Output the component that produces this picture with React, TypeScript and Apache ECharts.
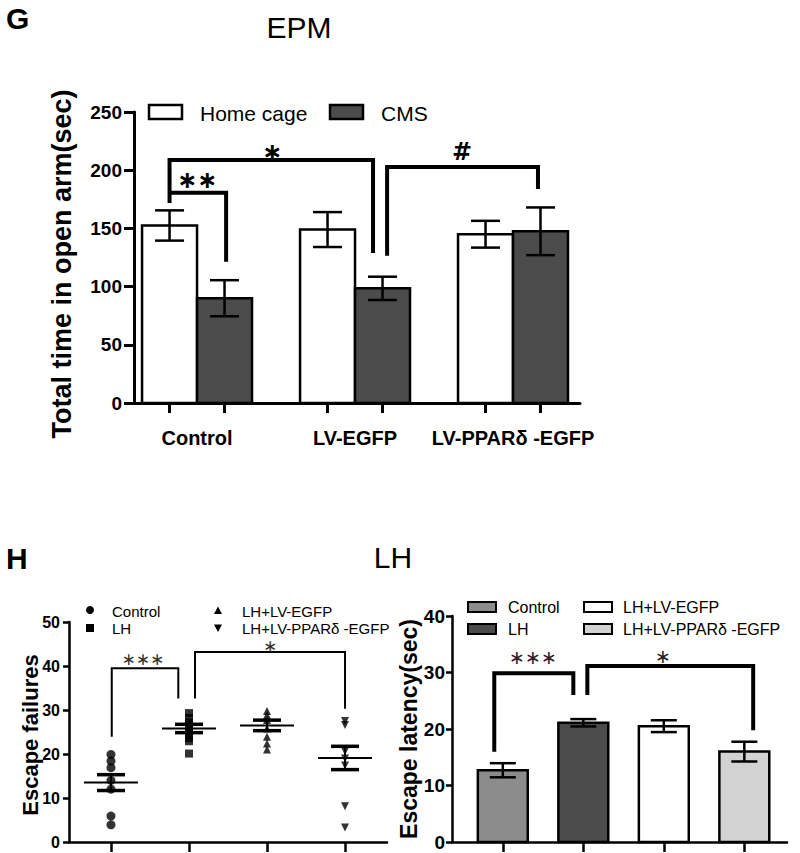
import React, { useEffect, useRef } from "react";
import * as echarts from "echarts";

// ---------- Panel G : EPM ----------
const epmGroups = ["Control", "LV-EGFP", "LV-PPARδ -EGFP"];
const epmSeriesNames = ["Home cage", "CMS"];
const epmHome = [152.5, 149, 145];
const epmHomeSem = [13, 15, 11.5];
const epmCms = [90, 98.5, 147.5];
const epmCmsSem = [15.5, 10, 20.5];
const epmYTicks = [0, 50, 100, 150, 200, 250];
// brackets: [x1, y1 (foot), x2, y2 (foot), yTop]
const epmBrackets = [
  [-0.174, 171.8, 1.114, 128.9, 208.8],
  [-0.174, 180.7, 0.184, 121.4, 180.7],
  [1.203, 126.5, 2.158, 183.8, 202.7],
];
const epmMarkText = ["∗", "∗∗", "#"];
const epmMarkPos = [
  [0.475, 215.6],
  [0.0, 191.6],
  [1.677, 215.6],
];

// ---------- Panel H : LH ----------
const lhGroups = ["Control", "LH", "LH+LV-EGFP", "LH+LV-PPARδ -EGFP"];
const failControl = [19.9, 18.4, 16.9, 14.0, 12.0, 5.9, 3.9];
const failLH = [29.3, 28.2, 27.2, 26.5, 26.0, 25.2, 24.4, 23.6, 22.9, 20.1];
const failEGFP = [29.8, 28.8, 27.7, 25.8, 23.9, 22.4, 21.0];
const failPPAR = [27.5, 26.6, 20.6, 19.0, 17.4, 8.1, 3.3];
const failMean = [13.5, 25.8, 26.5, 19.1];
const failSem = [1.8, 0.95, 1.2, 2.65];
const failYTicks = [0, 10, 20, 30, 40, 50];
const failBrackets = [
  [0.01, 23.9, 0.863, 32.6, 39.5],
  [1.077, 32.6, 3.0, 30.3, 43.2],
];
const failMarkText = ["∗∗∗", "∗"];
const failMarkPos = [
  [0.41, 41.6],
  [2.04, 44.6],
];

const latency = [12.7, 21.1, 20.5, 16.0];
const latencySem = [1.25, 0.65, 1.05, 1.75];
const latencyYTicks = [0, 10, 20, 30, 40];
const latencyBrackets = [
  [-0.106, 15.96, 0.876, 26.0, 29.85],
  [1.05, 26.0, 3.11, 19.8, 31.15],
];
const latencyMarkText = ["∗∗∗", "∗"];
const latencyMarkPos = [
  [0.375, 32.7],
  [1.99, 33.0],
];

// ---------- styles ----------
const FONT = "'Liberation Sans', Arial, Helvetica, sans-serif";
const STAR_FONT = "'DejaVu Sans', sans-serif";
const DARK = "#4b4b4b";
const latencyColors = ["#8c8c8c", DARK, "#ffffff", "#d2d2d2"];
const EPM_BAR_OFF = 0.174;
const EPM_BAR_W = 0.348;
const LAT_BAR_W = 0.62;

function barRender(fills: string[] | string, barW: number, lw: number) {
  return (params: any, api: any) => {
    const x = api.value(0);
    const v = api.value(1);
    const p = api.coord([x, v]);
    const b = api.coord([x, 0]);
    const w = api.size([barW, 0])[0];
    const fill = Array.isArray(fills) ? fills[params.dataIndex] : fills;
    return {
      type: "rect",
      shape: { x: p[0] - w / 2, y: p[1], width: w, height: b[1] - p[1] },
      style: { fill, stroke: "#000", lineWidth: lw },
    };
  };
}

function errRender(cap: number, lw: number) {
  return (params: any, api: any) => {
    const x = api.value(0);
    const m = api.value(1);
    const s = api.value(2);
    const hi = api.coord([x, m + s]);
    const lo = api.coord([x, m - s]);
    const st = { stroke: "#000", lineWidth: lw };
    return {
      type: "group",
      children: [
        { type: "line", shape: { x1: hi[0], y1: hi[1], x2: lo[0], y2: lo[1] }, style: st },
        { type: "line", shape: { x1: hi[0] - cap, y1: hi[1], x2: hi[0] + cap, y2: hi[1] }, style: st },
        { type: "line", shape: { x1: lo[0] - cap, y1: lo[1], x2: lo[0] + cap, y2: lo[1] }, style: st },
      ],
    };
  };
}

function meanRender(half: number, capHalf: number) {
  return (params: any, api: any) => {
    const x = api.value(0);
    const m = api.value(1);
    const s = api.value(2);
    const c = api.coord([x, m]);
    const hi = api.coord([x, m + s]);
    const lo = api.coord([x, m - s]);
    return {
      type: "group",
      children: [
        { type: "line", shape: { x1: hi[0], y1: hi[1], x2: lo[0], y2: lo[1] }, style: { stroke: "#000", lineWidth: 2 } },
        { type: "line", shape: { x1: c[0] - half, y1: c[1], x2: c[0] + half, y2: c[1] }, style: { stroke: "#000", lineWidth: 2 } },
        { type: "line", shape: { x1: hi[0] - capHalf, y1: hi[1], x2: hi[0] + capHalf, y2: hi[1] }, style: { stroke: "#000", lineWidth: 3.5 } },
        { type: "line", shape: { x1: lo[0] - capHalf, y1: lo[1], x2: lo[0] + capHalf, y2: lo[1] }, style: { stroke: "#000", lineWidth: 3.5 } },
      ],
    };
  };
}

function bracketRender(lw: number) {
  return (params: any, api: any) => {
    const a = api.coord([api.value(0), api.value(1)]);
    const b = api.coord([api.value(0), api.value(4)]);
    const c = api.coord([api.value(2), api.value(4)]);
    const d = api.coord([api.value(2), api.value(3)]);
    return {
      type: "polyline",
      shape: { points: [a, b, c, d] },
      style: { stroke: "#000", lineWidth: lw, fill: "none", lineJoin: "miter", lineCap: "butt" },
    };
  };
}

function markRender(texts: string[], size: number, color: string, family: string, weight: string) {
  return (params: any, api: any) => {
    const p = api.coord([api.value(0), api.value(1)]);
    return {
      type: "text",
      x: p[0],
      y: p[1],
      style: {
        text: texts[params.dataIndex],
        fill: color,
        fontSize: size,
        fontFamily: family,
        fontWeight: weight,
        lineHeight: size,
        align: "center",
        verticalAlign: "middle",
        textAlign: "center",
        textVerticalAlign: "middle",
      },
    };
  };
}

function yAxisCfg(gridIndex: number, max: number, interval: number, fontSize: number, margin: number, tickLen: number, lw: number) {
  return {
    type: "value",
    gridIndex,
    min: 0,
    max,
    interval,
    axisLine: { show: true, onZero: false, lineStyle: { color: "#000", width: lw } },
    axisTick: { show: true, length: tickLen, lineStyle: { color: "#000", width: lw } },
    axisLabel: { color: "#000", fontWeight: "bold", fontSize, fontFamily: FONT, margin },
    splitLine: { show: false },
  };
}

function txt(text: string, x: number, y: number, size: number, weight: string, align = "left", rotation = 0) {
  return {
    type: "text",
    x,
    y,
    rotation,
    style: {
      text,
      fill: "#000",
      fontSize: size,
      fontWeight: weight,
      fontFamily: FONT,
      lineHeight: size,
      align,
      verticalAlign: "middle",
      textAlign: align,
      textVerticalAlign: "middle",
    },
  };
}

export default function App() {
  const ref = useRef<HTMLDivElement>(null);

  useEffect(() => {
    document.body.style.margin = "0";
    if (!ref.current) return;
    const chart = echarts.init(ref.current, undefined, { renderer: "svg" });

    const epmTickPos: number[] = [];
    epmGroups.forEach((_, i) => {
      epmTickPos.push(i - EPM_BAR_OFF, i + EPM_BAR_OFF);
    });

    const option: any = {
      animation: false,
      backgroundColor: "#ffffff",
      grid: [
        { left: 134, top: 112, width: 446, height: 291, outerBoundsMode: "none" },
        { left: 69, top: 622, width: 318, height: 220, outerBoundsMode: "none" },
        { left: 452, top: 616, width: 335, height: 226, outerBoundsMode: "none" },
      ],
      xAxis: [
        {
          type: "value",
          gridIndex: 0,
          min: -0.399,
          max: 2.424,
          axisLine: { show: true, onZero: false, lineStyle: { color: "#000", width: 3 } },
          axisTick: { show: true, length: 10, customValues: epmTickPos, lineStyle: { color: "#000", width: 3 } },
          axisLabel: {
            show: true,
            customValues: epmGroups.map((_, i) => i),
            formatter: (v: number) => epmGroups[Math.round(v)] ?? "",
            color: "#000",
            fontWeight: "bold",
            fontSize: 20,
            fontFamily: FONT,
            margin: 25,
          },
          splitLine: { show: false },
        },
        {
          type: "value",
          gridIndex: 1,
          min: -0.538,
          max: 3.538,
          axisLine: { show: true, onZero: false, lineStyle: { color: "#000", width: 2.5 } },
          axisTick: { show: true, length: 10, customValues: lhGroups.map((_, i) => i), lineStyle: { color: "#000", width: 2.5 } },
          axisLabel: { show: false },
          splitLine: { show: false },
        },
        {
          type: "value",
          gridIndex: 2,
          min: -0.631,
          max: 3.53,
          axisLine: { show: true, onZero: false, lineStyle: { color: "#000", width: 2.5 } },
          axisTick: { show: true, length: 10, customValues: lhGroups.map((_, i) => i), lineStyle: { color: "#000", width: 2.5 } },
          axisLabel: { show: false },
          splitLine: { show: false },
        },
      ],
      yAxis: [
        yAxisCfg(0, epmYTicks[epmYTicks.length - 1], epmYTicks[1] - epmYTicks[0], 19, 12, 10, 3),
        yAxisCfg(1, failYTicks[failYTicks.length - 1], failYTicks[1] - failYTicks[0], 16, 9, 6, 2.5),
        yAxisCfg(2, latencyYTicks[latencyYTicks.length - 1], latencyYTicks[1] - latencyYTicks[0], 19, 7, 6, 2.5),
      ],
      series: [
        // ----- G -----
        {
          type: "custom",
          name: epmSeriesNames[0],
          xAxisIndex: 0,
          yAxisIndex: 0,
          renderItem: barRender("#ffffff", EPM_BAR_W, 2.5),
          data: epmHome.map((v, i) => [i - EPM_BAR_OFF, v]),
          z: 2,
        },
        {
          type: "custom",
          name: epmSeriesNames[1],
          xAxisIndex: 0,
          yAxisIndex: 0,
          renderItem: barRender(DARK, EPM_BAR_W, 2.5),
          data: epmCms.map((v, i) => [i + EPM_BAR_OFF, v]),
          z: 2,
        },
        {
          type: "custom",
          name: "EPM SEM",
          xAxisIndex: 0,
          yAxisIndex: 0,
          renderItem: errRender(14.5, 2.5),
          data: [
            ...epmHome.map((v, i) => [i - EPM_BAR_OFF, v, epmHomeSem[i]]),
            ...epmCms.map((v, i) => [i + EPM_BAR_OFF, v, epmCmsSem[i]]),
          ],
          z: 3,
        },
        {
          type: "custom",
          name: "EPM brackets",
          xAxisIndex: 0,
          yAxisIndex: 0,
          renderItem: bracketRender(4),
          data: epmBrackets,
          z: 4,
        },
        {
          type: "custom",
          name: "EPM marks",
          xAxisIndex: 0,
          yAxisIndex: 0,
          renderItem: markRender(epmMarkText, 24, "#000", STAR_FONT, "bold"),
          data: epmMarkPos,
          z: 4,
        },
        // ----- H left (scatter) -----
        {
          type: "scatter",
          name: lhGroups[0],
          xAxisIndex: 1,
          yAxisIndex: 1,
          symbol: "circle",
          symbolSize: 9,
          itemStyle: { color: "#000" },
          data: failControl.map((v) => [0, v]),
          z: 2,
        },
        {
          type: "scatter",
          name: lhGroups[1],
          xAxisIndex: 1,
          yAxisIndex: 1,
          symbol: "rect",
          symbolSize: 8,
          itemStyle: { color: "#000" },
          data: failLH.map((v) => [1, v]),
          z: 2,
        },
        {
          type: "scatter",
          name: lhGroups[2],
          xAxisIndex: 1,
          yAxisIndex: 1,
          symbol: "triangle",
          symbolSize: [8, 8],
          itemStyle: { color: "#000" },
          data: failEGFP.map((v) => [2, v]),
          z: 2,
        },
        {
          type: "scatter",
          name: lhGroups[3],
          xAxisIndex: 1,
          yAxisIndex: 1,
          symbol: "path://M0,0L10,0L5,9Z",
          symbolSize: [8, 8],
          itemStyle: { color: "#000" },
          data: failPPAR.map((v) => [3, v]),
          z: 2,
        },
        {
          type: "custom",
          name: "Failures mean",
          xAxisIndex: 1,
          yAxisIndex: 1,
          renderItem: meanRender(27, 14),
          data: failMean.map((m, i) => [i, m, failSem[i]]),
          z: 3,
        },
        {
          type: "custom",
          name: "Failures brackets",
          xAxisIndex: 1,
          yAxisIndex: 1,
          renderItem: bracketRender(2),
          data: failBrackets,
          z: 4,
        },
        {
          type: "custom",
          name: "Failures marks",
          xAxisIndex: 1,
          yAxisIndex: 1,
          renderItem: markRender(failMarkText, 17, "#333", STAR_FONT, "normal"),
          data: failMarkPos,
          z: 4,
        },
        // ----- H right (bars) -----
        {
          type: "custom",
          name: "Escape latency",
          xAxisIndex: 2,
          yAxisIndex: 2,
          renderItem: barRender(latencyColors, LAT_BAR_W, 2.5),
          data: latency.map((v, i) => [i, v]),
          z: 2,
        },
        {
          type: "custom",
          name: "Latency SEM",
          xAxisIndex: 2,
          yAxisIndex: 2,
          renderItem: errRender(13, 2.5),
          data: latency.map((v, i) => [i, v, latencySem[i]]),
          z: 3,
        },
        {
          type: "custom",
          name: "Latency brackets",
          xAxisIndex: 2,
          yAxisIndex: 2,
          renderItem: bracketRender(4),
          data: latencyBrackets,
          z: 4,
        },
        {
          type: "custom",
          name: "Latency marks",
          xAxisIndex: 2,
          yAxisIndex: 2,
          renderItem: markRender(latencyMarkText, 19, "#222", STAR_FONT, "normal"),
          data: latencyMarkPos,
          z: 4,
        },
      ],
      graphic: [
        // panel letters and titles
        txt("G", 6, 18, 30, "bold"),
        txt("EPM", 299, 27, 30, "normal", "center"),
        txt("H", 6, 558, 30, "bold"),
        txt("LH", 393, 557, 30, "normal", "center"),
        // y-axis titles
        txt("Total time in open arm(sec)", 62, 264, 27, "bold", "center", Math.PI / 2),
        txt("Escape failures", 30, 735, 22, "bold", "center", Math.PI / 2),
        txt("Escape latency(sec)", 409, 729, 23, "bold", "center", Math.PI / 2),
        // legend G
        { type: "rect", shape: { x: 149, y: 105, width: 33, height: 14 }, style: { fill: "#fff", stroke: "#000", lineWidth: 2.5 } },
        txt(epmSeriesNames[0], 200, 113, 21, "normal"),
        { type: "rect", shape: { x: 330, y: 105, width: 33, height: 14 }, style: { fill: DARK, stroke: "#000", lineWidth: 2.5 } },
        txt(epmSeriesNames[1], 381, 113, 21, "normal"),
        // legend H left
        { type: "circle", shape: { cx: 90, cy: 610, r: 4 }, style: { fill: "#000" } },
        txt(lhGroups[0], 112, 611, 15, "normal"),
        { type: "rect", shape: { x: 86, y: 624, width: 8, height: 8 }, style: { fill: "#000" } },
        txt(lhGroups[1], 112, 628.5, 15, "normal"),
        { type: "polygon", shape: { points: [[214, 614], [222, 614], [218, 606.5]] }, style: { fill: "#000" } },
        txt(lhGroups[2], 242, 611, 15, "normal"),
        { type: "polygon", shape: { points: [[214, 624.5], [222, 624.5], [218, 632]] }, style: { fill: "#000" } },
        txt(lhGroups[3], 242, 628.5, 15, "normal"),
        // legend H right
        { type: "rect", shape: { x: 468, y: 602, width: 28, height: 10 }, style: { fill: latencyColors[0], stroke: "#000", lineWidth: 2 } },
        txt(lhGroups[0], 508, 607, 16, "normal"),
        { type: "rect", shape: { x: 468, y: 624, width: 28, height: 10 }, style: { fill: latencyColors[1], stroke: "#000", lineWidth: 2 } },
        txt(lhGroups[1], 508, 629, 16, "normal"),
        { type: "rect", shape: { x: 584, y: 602, width: 28, height: 10 }, style: { fill: latencyColors[2], stroke: "#000", lineWidth: 2 } },
        txt(lhGroups[2], 623, 607, 16, "normal"),
        { type: "rect", shape: { x: 584, y: 624, width: 28, height: 10 }, style: { fill: latencyColors[3], stroke: "#000", lineWidth: 2 } },
        txt(lhGroups[3], 623, 629, 16, "normal"),
      ],
    };

    chart.setOption(option);
    return () => {
      chart.dispose();
    };
  }, []);

  return <div ref={ref} style={{ width: 800, height: 853 }} />;
}
